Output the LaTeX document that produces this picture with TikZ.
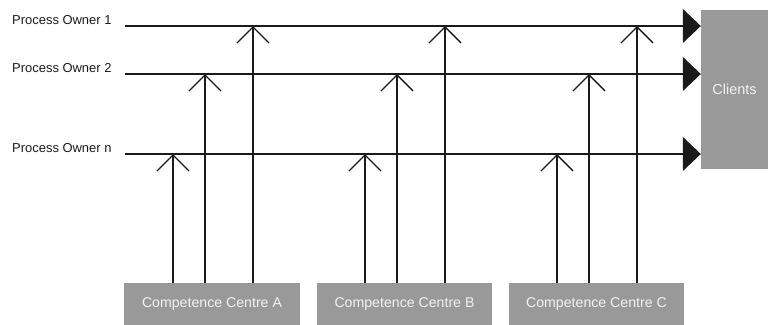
\documentclass[tikz,border=0pt]{standalone}
\usepackage{fontspec}
\setmainfont{Liberation Sans}
\usetikzlibrary{arrows.meta,calc}
\definecolor{boxgrey}{HTML}{999999}
\definecolor{boxtext}{HTML}{F2F2F2}
\definecolor{ink}{HTML}{1A1A1A}
\tikzset{
  greybox/.style={fill=boxgrey, draw=none, inner sep=0pt, text=boxtext},
  polabel/.style={anchor=west, inner sep=0pt, text=ink, font=\fontsize{13}{15}\selectfont},
  flow/.style={line width=1.3bp, draw=ink, -{Triangle[length=18bp,width=34bp]}},
  supply/.style={line width=1.3bp, draw=ink, -{Straight Barb[length=16bp,width=32bp,line width=1.3bp]}},
}
\begin{document}
\begin{tikzpicture}[x=1bp,y=-1bp]
\useasboundingbox (0,0) rectangle (768,324);
% Clients
\node[greybox, minimum width=67bp, minimum height=159bp, font=\fontsize{14.5}{16}\selectfont] (clients) at (734.5,89.5) {Clients};
% Competence centres
\node[greybox, minimum width=176bp, minimum height=42bp, font=\fontsize{14.2}{16}\selectfont] (ccA) at (212,304) {Competence Centre A};
\node[greybox, minimum width=175bp, minimum height=42bp, font=\fontsize{14.2}{16}\selectfont] (ccB) at (404.5,304) {Competence Centre B};
\node[greybox, minimum width=175bp, minimum height=42bp, font=\fontsize{14.2}{16}\selectfont] (ccC) at (596.5,304) {Competence Centre C};
% Process owner labels
\node[polabel] (l1) at (12,20) {Process Owner 1};
\node[polabel] (l2) at (12,68) {Process Owner 2};
\node[polabel] (ln) at (12,148) {Process Owner n};
% Line starts
\coordinate (s1) at (125,26);
\coordinate (s2) at (125,74);
\coordinate (sn) at (125,154);
% Horizontal flows
\draw[flow] (s1) -- (s1 -| clients.west);
\draw[flow] (s2) -- (s2 -| clients.west);
\draw[flow] (sn) -- (sn -| clients.west);
% Vertical supplies
\foreach \cc/\xa/\xb/\xc in {ccA/173/205/253, ccB/365/397/445, ccC/557/589/637}{
  \draw[supply] (\cc.north -| {\xa,0}) -- ({\xa,0} |- sn);
  \draw[supply] (\cc.north -| {\xb,0}) -- ({\xb,0} |- s2);
  \draw[supply] (\cc.north -| {\xc,0}) -- ({\xc,0} |- s1);
}
\end{tikzpicture}
\end{document}
